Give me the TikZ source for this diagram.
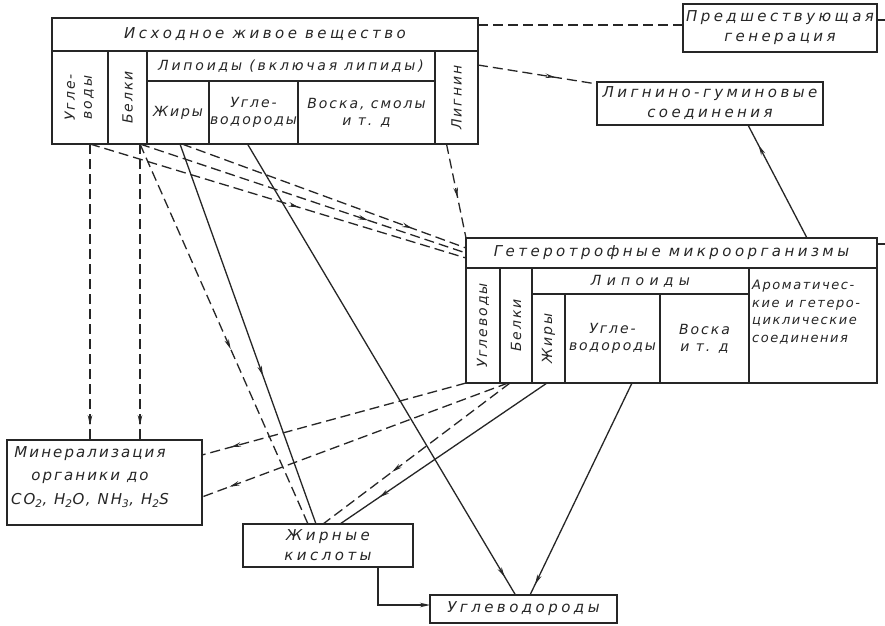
\documentclass[tikz,border=0pt]{standalone}
\usepackage{fontspec}
\usepackage{graphicx}
\usetikzlibrary{arrows.meta,decorations.markings,calc}
\newfontfamily\gfa[LetterSpace=23]{DejaVu Sans}
\newfontfamily\gfb[LetterSpace=14]{DejaVu Sans}
\newfontfamily\gfm[LetterSpace=20]{DejaVu Sans}
\newfontfamily\gfw[LetterSpace=38]{DejaVu Sans}
\newfontfamily\gfc[LetterSpace=12]{DejaVu Sans}
\definecolor{ink}{HTML}{262626}
\begin{document}
\begin{tikzpicture}[x=1pt,y=-1pt,
  box/.style={draw=ink, line width=1.4pt, inner sep=0pt, outer sep=0pt, text=ink, align=center},
  txt/.style={inner sep=0pt, text=ink},
  big/.style={font={\gfa\itshape\fontsize{15}{20}\selectfont}},
  small/.style={font={\gfb\itshape\fontsize{14}{17}\selectfont}},
  midf/.style={font={\gfm\itshape\fontsize{14}{17}\selectfont}},
  widef/.style={font={\gfw\itshape\fontsize{14}{17}\selectfont}},
  tiny/.style={font={\gfc\itshape\fontsize{13}{17.5}\selectfont}},
  conn/.style={draw=ink, line width=1.3pt},
  dsh/.style={conn, dash pattern=on 10pt off 5pt},
  midarrow/.style={postaction={decorate}, decoration={markings, mark=at position #1 with {\arrow{Stealth[length=10pt,width=4.5pt]}}}},
]
\fill[white] (0,0) rectangle (885,625);
\useasboundingbox (0,0) rectangle (885,625);

% top table
\node[box, big, minimum width=426pt, minimum height=33pt] (tTitle) at (265,34.5) {Исходное живое вещество};
\node[box, small, minimum width=56pt, minimum height=93pt] (tCarb) at (80,97.5) {\rotatebox{90}{\begin{tabular}{@{}c@{}}Угле-\\воды\end{tabular}}};
\node[box, small, minimum width=39pt, minimum height=93pt] (tProt) at (127.5,97.5) {\rotatebox{90}{Белки}};
\node[box, midf, minimum width=288pt, minimum height=30pt] (tLip) at (291,66) {Липоиды (включая липиды)};
\node[box, small, minimum width=62pt, minimum height=63pt] (tFat) at (178,112.5) {Жиры};
\node[box, small, minimum width=89pt, minimum height=63pt] (tHC) at (253.5,112.5) {Угле-\\водороды};
\node[box, small, minimum width=137pt, minimum height=63pt] (tWax) at (366.5,112.5) {Воска, смолы\\и т. д};
\node[box, small, minimum width=43pt, minimum height=93pt] (tLig) at (456.5,97.5) {\rotatebox{90}{Лигнин}};

% heterotrophs table
\node[box, big, minimum width=411pt, minimum height=30pt] (hTitle) at (671.5,253) {Гетеротрофные микроорганизмы};
\node[box, small, minimum width=34pt, minimum height=115pt] (hCarb) at (483,325.5) {\rotatebox{90}{Углеводы}};
\node[box, small, minimum width=32pt, minimum height=115pt] (hProt) at (516,325.5) {\rotatebox{90}{Белки}};
\node[box, widef, minimum width=217pt, minimum height=26pt] (hLip) at (640.5,281) {Липоиды};
\node[box, small, minimum width=33pt, minimum height=89pt] (hFat) at (548.5,338.5) {\rotatebox{90}{Жиры}};
\node[box, small, minimum width=95pt, minimum height=89pt] (hHC) at (612.5,338.5) {Угле-\\водороды};
\node[box, small, minimum width=89pt, minimum height=89pt] (hWax) at (704.5,338.5) {Воска\\и т. д};
\node[box, minimum width=128pt, minimum height=115pt] (hArom) at (813,325.5) {};
\node[txt, tiny, anchor=west, align=left] (hAromT) at (752,312) {Ароматичес-\\кие и гетеро-\\циклические\\соединения};

% other boxes
\node[box, big, minimum width=194pt, minimum height=48pt] (prev) at (780,28) {Предшествующая\\генерация};
\node[box, big, minimum width=226pt, minimum height=43pt] (lgum) at (710,103.5) {Лигнино-гуминовые\\соединения};
\node[box, minimum width=195pt, minimum height=85pt] (mineral) at (104.5,482.5) {};
\node[txt, align=center, font={\gfb\itshape\fontsize{15}{23.5}\selectfont}] (mineralT) at (90,477) {Минерализация\\органики до\\CO\textsubscript{2}, H\textsubscript{2}O, NH\textsubscript{3}, H\textsubscript{2}S};
\node[box, big, minimum width=170pt, minimum height=43pt] (fatac) at (328,545.5) {Жирные\\кислоты};
\node[box, big, minimum width=187pt, minimum height=28pt] (hcarb) at (523.5,609) {Углеводороды};

% connectors from the original matter
\draw[dsh, midarrow=0.95] ([xshift=10pt]tCarb.south) -- ([xshift=10pt]tCarb.south |- mineral.north);
\draw[dsh, midarrow=0.95] ([xshift=12.5pt]tProt.south) -- ([xshift=12.5pt]tProt.south |- mineral.north);
\draw[dsh, midarrow=0.555] ([xshift=10pt]tCarb.south) -- ([yshift=-5pt]hTitle.west);
\draw[dsh, midarrow=0.70] ([xshift=12.5pt]tProt.south) -- (hTitle.west);
\draw[dsh, midarrow=0.81] ([xshift=4pt]tFat.south) -- ([yshift=5pt]hTitle.west);
\draw[dsh, midarrow=0.54] ([xshift=12.5pt]tProt.south) -- ([xshift=-20pt]fatac.north);
\draw[conn, midarrow=0.61] ([xshift=2pt]tFat.south) -- ([xshift=-12pt]fatac.north);
\draw[conn, midarrow=0.96] ([xshift=-6pt]tHC.south) -- ([xshift=-8pt]hcarb.north);
\draw[dsh, midarrow=0.57] ([xshift=-10pt]tLig.south) -- (hTitle.north west);
\draw[dsh, midarrow=0.65] ([yshift=32.5pt]tLig.east) -- ([yshift=-2pt]lgum.north west);
\draw[dsh] ([yshift=9.5pt]tTitle.east) -- ([yshift=3pt]prev.west);

% connectors from the heterotrophs
\draw[conn, midarrow=0.82] ([xshift=135.5pt]hTitle.north) -- ([xshift=38pt]lgum.south);
\draw[dsh, midarrow=0.89] (hCarb.south west) -- ([yshift=27.5pt]mineral.east);
\draw[dsh, midarrow=0.91] ([xshift=-8pt]hProt.south) -- ([yshift=-14.5pt]mineral.east);
\draw[dsh, midarrow=0.63] ([xshift=-6pt]hProt.south) -- ([xshift=-5pt]fatac.north);
\draw[conn, midarrow=0.81] ([xshift=-1.5pt]hFat.south) -- ([xshift=12pt]fatac.north);
\draw[conn, midarrow=0.95] ([xshift=19.5pt]hHC.south) -- ([xshift=6.5pt]hcarb.north);
\draw[conn, -{Stealth[length=10pt,width=4.5pt]}] ([xshift=50pt]fatac.south) |- ([yshift=4pt]hcarb.west);

% stubs leaving the picture
\coordinate (s1) at (885,20);
\coordinate (s2) at (885,244);
\draw[conn] ([yshift=8pt]prev.east) -- (s1);
\draw[conn] ([yshift=9pt]hTitle.east) -- (s2);
\end{tikzpicture}
\end{document}
